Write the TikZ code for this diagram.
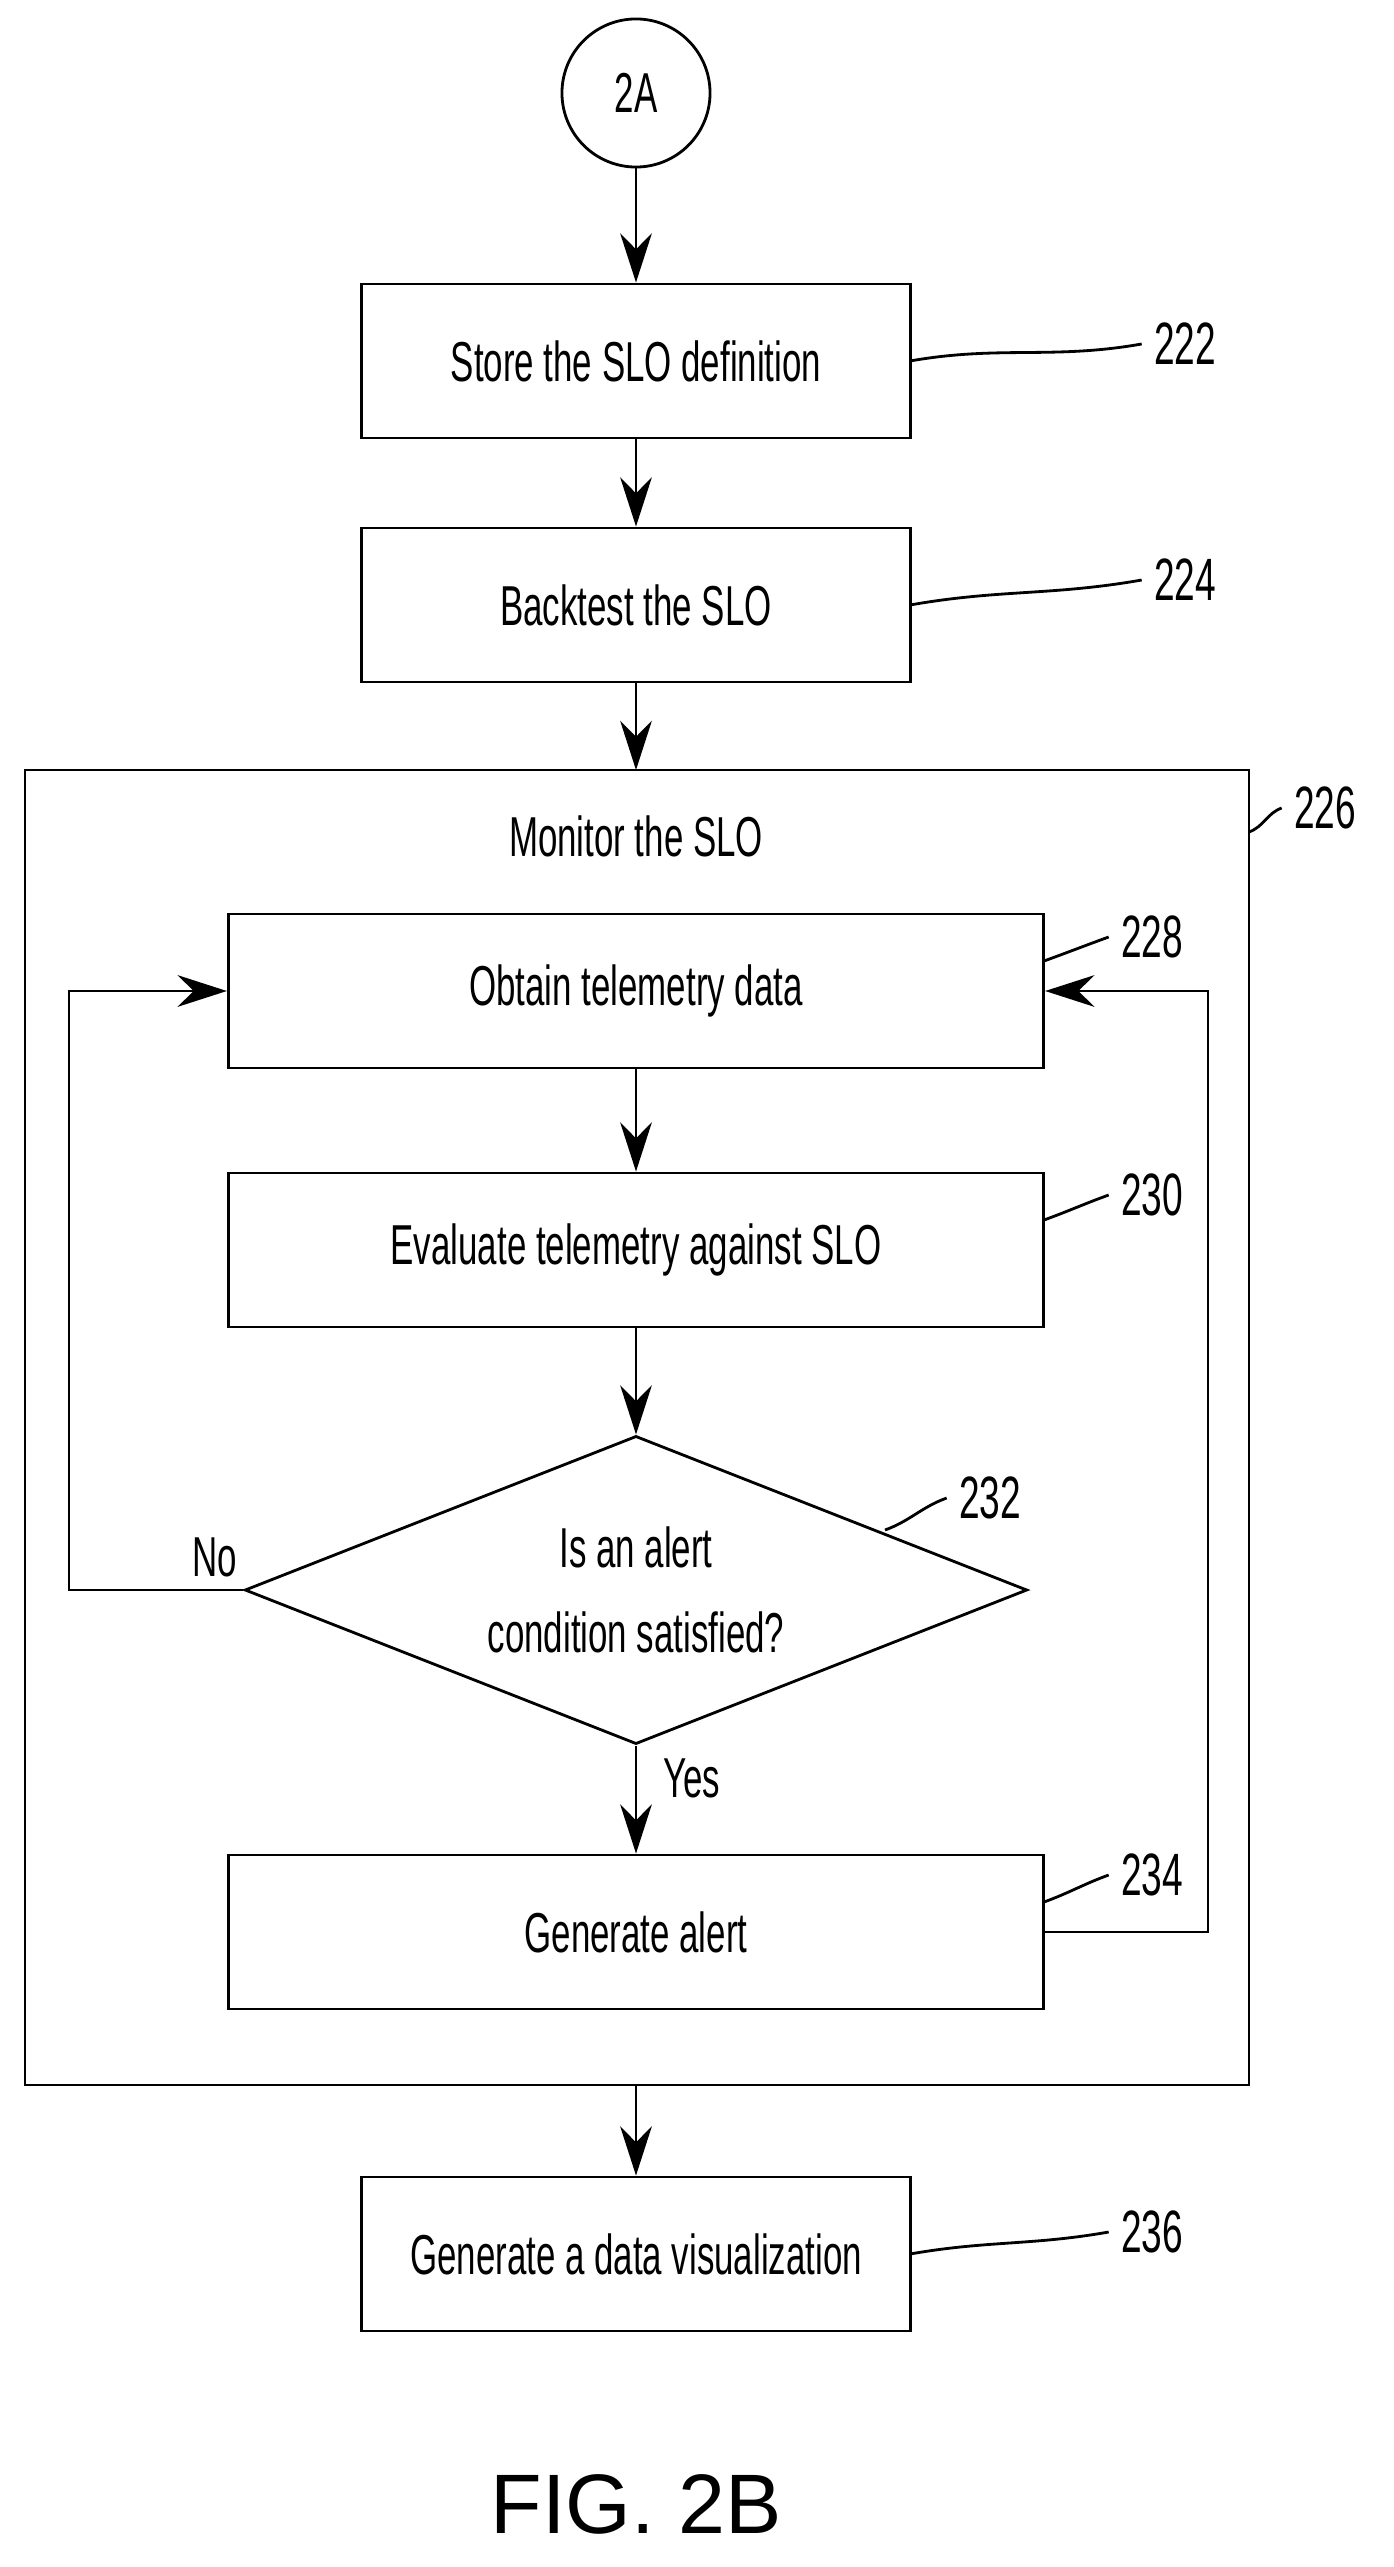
\documentclass[tikz,border=0pt]{standalone}
\usepackage{fontspec}
\setmainfont{Liberation Sans}[FakeStretch=0.62]
\newfontfamily\figfont{Liberation Sans}
\usetikzlibrary{shapes.geometric,arrows.meta}
\tikzset{
  box/.style={draw,thick,rectangle,minimum height=1.54cm,inner sep=0pt},
  flow/.style={thick,-{Stealth[length=14pt,width=9pt]}},
  lead/.style={thick},
  num/.style={font=\fontsize{17}{20}\selectfont}
}
\begin{document}
\begin{tikzpicture}[x=0.01cm,y=-0.01cm,font=\fontsize{16}{24}\selectfont]
\useasboundingbox (0,0) rectangle (1393,2567);
\draw [thick] (25,770) rectangle (1249,2085);
\node (mon) at (636,836) {Monitor the SLO};

\node [draw,thick,circle,minimum size=1.48cm] (c2a) at (636,93) {2A};
\node [box,minimum width=5.48cm] (s222) at (636,361) {Store the SLO definition};
\node [box,minimum width=5.48cm] (s224) at (636,605) {Backtest the SLO};
\node [box,minimum width=8.15cm] (s228) at (636,991) {Obtain telemetry data};
\node [box,minimum width=8.15cm] (s230) at (636,1250) {Evaluate telemetry against SLO};
\node [draw,thick,diamond,aspect=2.54,minimum width=7.82cm,minimum height=3.08cm,inner sep=0pt,align=center] (s232) at (636,1590) {Is an alert\\condition satisfied?};
\node [box,minimum width=8.15cm] (s234) at (636,1932) {Generate alert};
\node [box,minimum width=5.48cm] (s236) at (636,2254) {Generate a data visualization};
\node [font=\figfont\fontsize{24}{28}\selectfont] (fig) at (636,2504) {FIG. 2B};

\coordinate (top226) at (636,770);
\coordinate (bot226) at (636,2085);
\draw [flow] (c2a) -- (s222);
\draw [flow] (s222) -- (s224);
\draw [flow] (s224) -- (top226);
\draw [flow] (s228) -- (s230);
\draw [flow] (s230) -- (s232);
\draw [flow] (s232) -- node[right,pos=0.3,xshift=4pt] {Yes} (s234);
\draw [flow] (bot226) -- (s236);
\draw [flow] (s232.west) node[above left,xshift=2pt] {No} -- (69,1590) |- (s228.west);
\draw [flow] (s234.east) -- (1208,1932) |- (s228.east);

% reference numerals
\node [num] (n222) at (1185,344) {222};
\node [num] (n224) at (1185,580) {224};
\node [num] (n226) at (1325,808) {226};
\node [num] (n228) at (1152,937) {228};
\node [num] (n230) at (1152,1195) {230};
\node [num] (n232) at (990,1498) {232};
\node [num] (n234) at (1152,1875) {234};
\node [num] (n236) at (1152,2232) {236};
\draw [lead] (910,361) to[out=10,in=190] (n222.west);
\draw [lead] (910,605) to[out=10,in=190] (n224.west);
\draw [lead] (1249,832) to[out=20,in=200] (n226.west);
\draw [lead] (1044,961) to[out=20,in=200] (n228.west);
\draw [lead] (1044,1220) to[out=20,in=200] (n230.west);
\draw [lead] (885,1530) to[out=20,in=200] (n232.west);
\draw [lead] (1044,1902) to[out=20,in=200] (n234.west);
\draw [lead] (910,2254) to[out=10,in=190] (n236.west);
\end{tikzpicture}
\end{document}
